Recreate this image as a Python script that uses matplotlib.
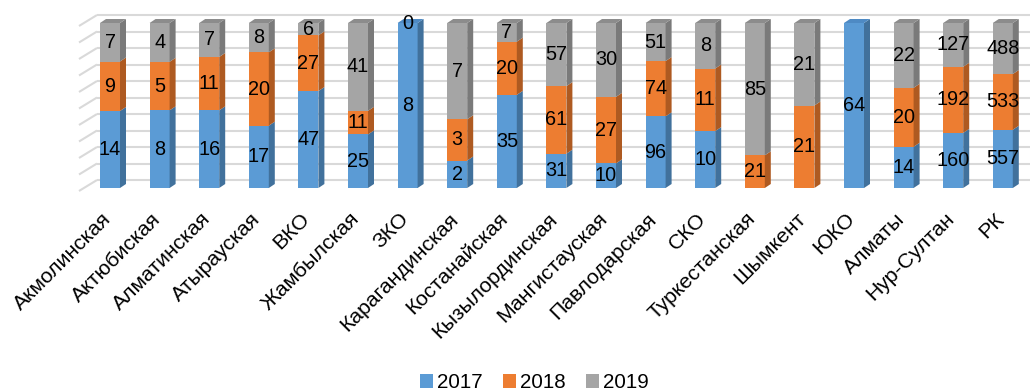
import numpy as np
import matplotlib.pyplot as plt
from matplotlib.patches import Polygon, Patch

plt.rcParams['font.family'] = ['Liberation Sans', 'DejaVu Sans']

categories = ['Акмолинская', 'Актюбиская', 'Алматинская', 'Атырауская', 'ВКО',
              'Жамбылская', 'ЗКО', 'Карагандинская', 'Костанайская',
              'Кызылординская', 'Мангистауская', 'Павлодарская', 'СКО',
              'Туркестанская', 'Шымкент', 'ЮКО', 'Алматы', 'Нур-Султан', 'РК']
y2017 = [14, 8, 16, 17, 47, 25, 8, 2, 35, 31, 10, 96, 10, np.nan, np.nan, 64, 14, 160, 557]
y2018 = [9, 5, 11, 20, 27, 11, np.nan, 3, 20, 61, 27, 74, 11, 21, 21, np.nan, 20, 192, 533]
y2019 = [7, 4, 7, 8, 6, 41, 0, 7, 7, 57, 30, 51, 8, 85, 21, np.nan, 22, 127, 488]
series_names = ['2017', '2018', '2019']

front_c = ['#5B9BD5', '#ED7D31', '#A5A5A5']
side_c = ['#41719C', '#AE5A21', '#7A7A7A']
top_c = ['#4E8AC4', '#D26C28', '#8C8C8C']

fig = plt.figure(figsize=(10.30, 3.91), dpi=100)
ax = fig.add_axes([0, 0, 1, 1])
ax.set_axis_off()

PX = 49.6   # pixels per category
PY = 1.65   # pixels per percent
x0 = 110    # pixel of first category
ybase = 188 # pixel of 0%
xmin, xmax = -x0 / PX, (1030 - x0) / PX
ax.set_xlim(xmin, xmax)
ax.set_ylim((ybase - 391) / PY, ybase / PY)

# back wall gridlines with perspective
for v in range(0, 101, 10):
    yb = v + 8 / PY
    ax.plot([-13 / PX, xmax], [yb, yb], color='#D9D9D9', lw=1.5, zorder=0,
            solid_capstyle='butt')
    ax.plot([-31 / PX, -13 / PX], [yb - 11 / PY, yb], color='#D9D9D9', lw=1.5,
            zorder=0, solid_capstyle='butt')

data = np.array([y2017, y2018, y2019], dtype=float)
filled = np.nan_to_num(data)
totals = filled.sum(axis=0)
pct = filled / totals * 100

x = np.arange(len(categories))
half = 10 / PX
dx = 6 / PX
dy = 4 / PY

bottoms = np.zeros(len(categories))
for s in range(3):
    ax.bar(x, pct[s], width=2 * half, bottom=bottoms, color=front_c[s],
           linewidth=0, zorder=2)
    for i in range(len(categories)):
        h = pct[s][i]
        b = bottoms[i]
        if h > 0:
            poly = Polygon([(i + half, b), (i + half + dx, b + dy),
                            (i + half + dx, b + h + dy), (i + half, b + h)],
                           closed=True, facecolor=side_c[s], edgecolor='none',
                           zorder=2)
            ax.add_patch(poly)
        if not np.isnan(data[s][i]):
            ax.text(i, b + h / 2, f'{int(data[s][i])}', ha='center', va='center',
                    fontsize=14.3, color='black', zorder=5)
    bottoms = bottoms + pct[s]

# top faces
for i in range(len(categories)):
    nz = [s for s in range(3) if pct[s][i] > 0]
    s = nz[-1]
    T = bottoms[i]
    poly = Polygon([(i - half, T), (i - half + dx, T + dy), (i + half + dx, T + dy),
                    (i + half, T)], closed=True, facecolor=top_c[s],
                   edgecolor='none', zorder=2)
    ax.add_patch(poly)

# category labels
for i, c in enumerate(categories):
    ax.text(i - 2 / PX, (ybase - 216) / PY, c, rotation=45, ha='right',
            va='center', rotation_mode='anchor', fontsize=15.3, color='black')

handles = [Patch(facecolor=front_c[s], edgecolor='none') for s in range(3)]
fig.legend(handles, series_names, loc='center', bbox_to_anchor=(0.519, 0.021),
           ncol=3, frameon=False, fontsize=14.8, handlelength=0.62,
           handleheight=0.62, handletextpad=0.2, columnspacing=1.0, borderpad=0)

fig.savefig('out.png', dpi=100)
